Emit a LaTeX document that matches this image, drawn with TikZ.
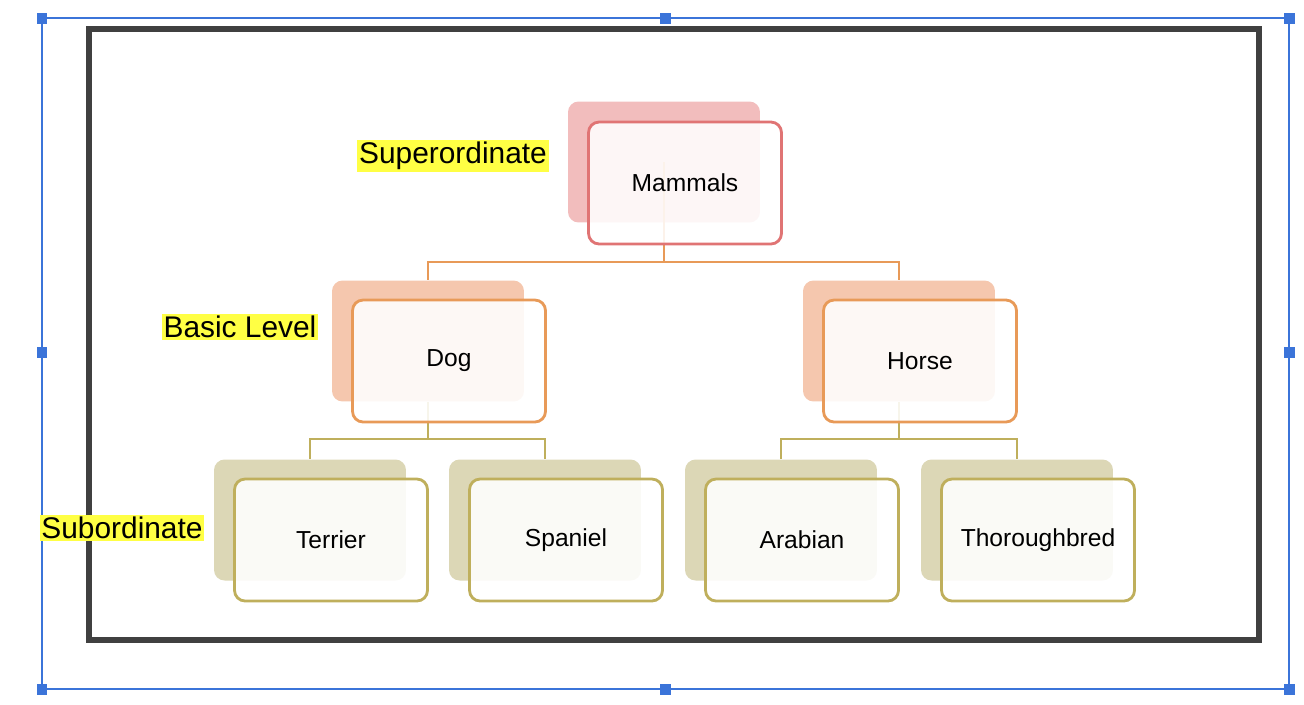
\documentclass[tikz,border=0pt]{standalone}
\usepackage{fontspec}
\setmainfont{Liberation Sans}
\definecolor{selblue}{HTML}{3B74D9}
\definecolor{framegray}{HTML}{404040}
\definecolor{supfill}{HTML}{F2BDBD}
\definecolor{supline}{HTML}{E07474}
\definecolor{basfill}{HTML}{F5C7AE}
\definecolor{basline}{HTML}{E89A58}
\definecolor{subfill}{HTML}{DCD7B6}
\definecolor{subline}{HTML}{BFAF5C}
\definecolor{hilite}{HTML}{FFFF44}
\tikzset{
  backbox/.style={rectangle, rounded corners=6pt, minimum width=3.84cm, minimum height=2.42cm, inner sep=0pt},
  frontbox/.style={rectangle, rounded corners=6pt, draw, line width=1.6pt, fill=white, fill opacity=0.88, text opacity=1, minimum width=3.86cm, minimum height=2.44cm, inner sep=0pt, font=\fontsize{14}{16}\selectfont},
  lvl/.style={fill=hilite, inner sep=1pt, font=\fontsize{17}{19}\selectfont},
  handle/.style={fill=selblue, minimum size=0.22cm, inner sep=0pt},
  link/.style={line width=1.4pt}
}
\begin{document}
\begin{tikzpicture}[x=0.02cm, y=-0.02cm]
        \useasboundingbox (0,0) rectangle (1304,704);
        % selection frame
        \draw [selblue, line width=0.6pt] (42,18) rectangle (1289,689);
        \foreach \hx/\hy [count=\i] in {42/18, 665/18, 1289/18, 42/352, 1289/352, 42/689, 665/689, 1289/689}
          \node [handle] (h\i) at (\hx,\hy) {};
        % outer frame
        \draw [framegray, line width=3.4pt] (89,29) rectangle (1259,640);
        % back boxes
        \node [backbox, fill=supfill] (mam0) at (664,162) {};
        \node [backbox, fill=basfill] (dog0) at (428,341) {};
        \node [backbox, fill=basfill] (hor0) at (899,341) {};
        \node [backbox, fill=subfill] (ter0) at (310,520) {};
        \node [backbox, fill=subfill] (spa0) at (545,520) {};
        \node [backbox, fill=subfill] (ara0) at (781,520) {};
        \node [backbox, fill=subfill] (tho0) at (1017,520) {};
        % connectors
        \draw [link, basline] (mam0.center) -- (664,262) -| (dog0.north);
        \draw [link, basline] (664,262) -| (hor0.north);
        \draw [link, subline] (dog0.center) ++(0,98) coordinate (dj) -| (ter0.north);
        \draw [link, subline] (dj) -| (spa0.north);
        \draw [link, subline] (dog0.south) -- (dj);
        \draw [link, subline] (hor0.center) ++(0,98) coordinate (hj) -| (ara0.north);
        \draw [link, subline] (hj) -| (tho0.north);
        \draw [link, subline] (hor0.south) -- (hj);
        % front boxes
        \node [frontbox, draw=supline] (mam) at (685,183) {Mammals};
        \node [frontbox, draw=basline] (dog) at (449,361) {Dog};
        \node [frontbox, draw=basline] (hor) at (920,361) {Horse};
        \node [frontbox, draw=subline] (ter) at (331,540) {Terrier};
        \node [frontbox, draw=subline] (spa) at (566,540) {Spaniel};
        \node [frontbox, draw=subline] (ara) at (802,540) {Arabian};
        \node [frontbox, draw=subline] (tho) at (1038,540) {Thoroughbred};
        % level labels
        \node [lvl] (sup) at (453,156) {Superordinate};
        \node [lvl] (bas) at (240,327) {Basic Level};
        \node [lvl] (sub) at (122,528) {Subordinate};
\end{tikzpicture}
\end{document}
